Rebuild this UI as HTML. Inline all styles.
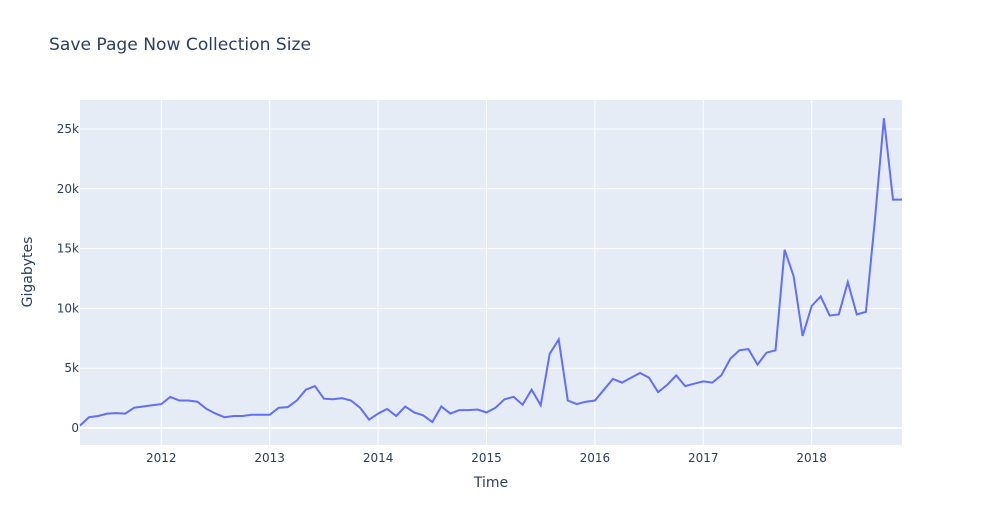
<!DOCTYPE html>
<html><head><meta charset="utf-8"><style>
body{margin:0;background:#fff;}
svg{display:block;font-family:"DejaVu Sans","Liberation Sans",sans-serif;}
</style></head><body>
<svg id="chart" width="982" height="525">
<rect width="982" height="525" fill="#fff"/>
<text x="49" y="50" font-size="17" fill="#2a3f5f" textLength="262" lengthAdjust="spacingAndGlyphs">Save Page Now Collection Size</text>
<rect x="80" y="100" width="822" height="345" fill="#e5ecf6"/>
<g id="grid"></g>
<g id="ticks" font-size="12" fill="#2a3f5f"></g>
<path id="line" fill="none" stroke="#636efa" stroke-width="2"/>
<text x="491" y="487" font-size="14" fill="#2a3f5f" text-anchor="middle">Time</text>
<text x="32" y="272" font-size="14" fill="#2a3f5f" text-anchor="middle" transform="rotate(-90 32 272)">Gigabytes</text>
</svg>
<script>
const startYear = 2011, startMonth = 4;
const values = [200,900,1000,1200,1250,1200,1700,1800,1900,
2000,2600,2300,2300,2200,1600,1200,900,1000,1000,1100,1100,
1100,1700,1750,2300,3200,3500,2450,2400,2500,2300,1700,700,
1200,1600,1000,1800,1300,1050,500,1800,1200,1500,1500,1550,
1300,1700,2400,2600,1950,3200,1900,6200,7400,2300,2000,2200,
2300,3200,4100,3800,4200,4600,4200,3000,3600,4400,3500,3700,
3900,3800,4400,5800,6500,6600,5300,6300,6500,14900,12700,7700,
10200,11000,9400,9500,12200,9500,9700,17400,25900,19100,19100];
const yTicks = [0,5000,10000,15000,20000,25000];
const yTickLabels = ["0","5k","10k","15k","20k","25k"];
const xTickYears = [2012,2013,2014,2015,2016,2017,2018];

const ns="http://www.w3.org/2000/svg";
const X0=80,X1=902,Y0=100,Y1=445;
const tStart = startYear + (startMonth-1)/12;
const tEnd = tStart + (values.length-1)/12;
function xs(t){return X0+(t-tStart)/(tEnd-tStart)*(X1-X0);}
function ys(v){return 428-v/25000*299;}
const grid=document.getElementById('grid'), ticks=document.getElementById('ticks');
yTicks.forEach((v,i)=>{
  const l=document.createElementNS(ns,'line');
  
  
  l.setAttribute('x1',X0);l.setAttribute('x2',X1);l.setAttribute('y1',ys(v));l.setAttribute('y2',ys(v));
  l.setAttribute('stroke','#fff');l.setAttribute('stroke-width',v===0?2:1);
  grid.appendChild(l);
  const t=document.createElementNS(ns,'text');
  
  
  t.setAttribute('x',79);t.setAttribute('y',ys(v)+4);t.setAttribute('text-anchor','end');
  t.textContent=yTickLabels[i];ticks.appendChild(t);
});
xTickYears.forEach(yr=>{
  const x=xs(yr);
  const l=document.createElementNS(ns,'line');
  
  
  l.setAttribute('x1',x);l.setAttribute('x2',x);l.setAttribute('y1',Y0);l.setAttribute('y2',Y1);
  l.setAttribute('stroke','#fff');l.setAttribute('stroke-width',1);
  grid.appendChild(l);
  const t=document.createElementNS(ns,'text');
  
  
  t.setAttribute('x',x);t.setAttribute('y',462);t.setAttribute('text-anchor','middle');
  t.textContent=yr;ticks.appendChild(t);
});
document.getElementById('line').setAttribute('d',values.map((v,i)=>(i?'L':'M')+xs(tStart+i/12).toFixed(1)+','+ys(v).toFixed(1)).join(''));
</script>
</body></html>
